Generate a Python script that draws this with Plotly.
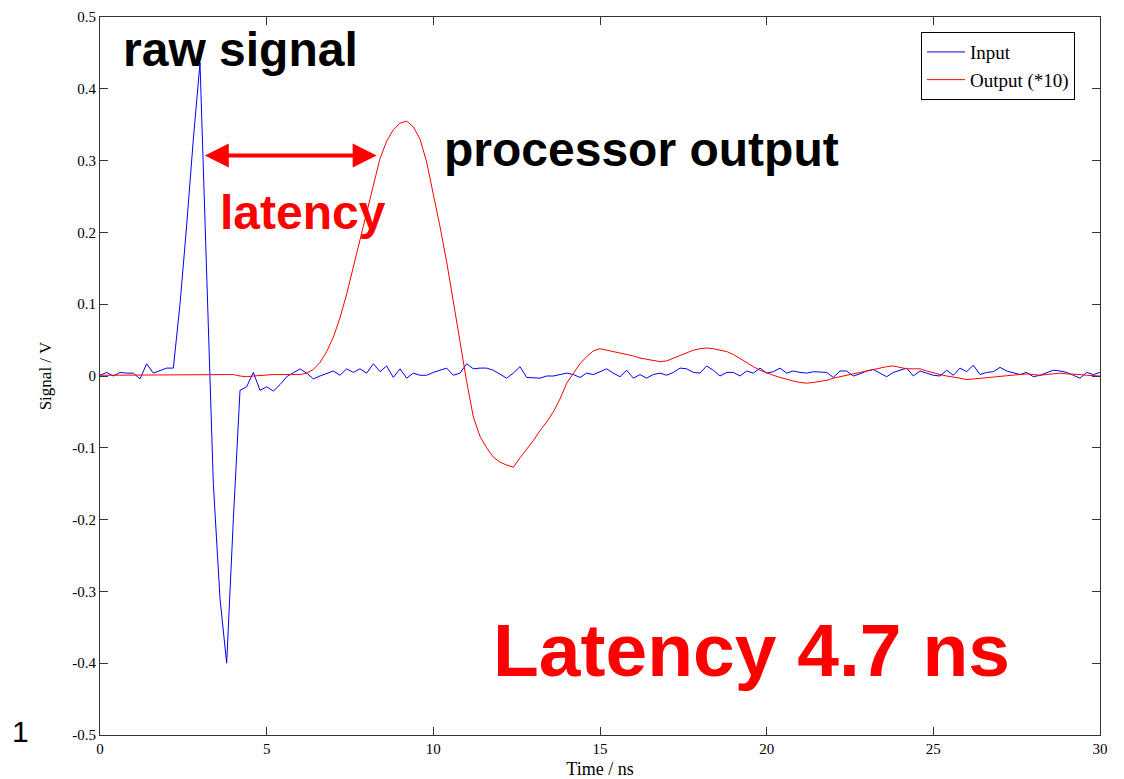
import plotly.graph_objects as go

# Time axis (ns), 0.2 ns sampling
time_ns = [round(i * 0.2, 1) for i in range(151)]

input_v = [
    0.001, 0.005, 0.000, 0.005, 0.004, 0.004, -0.004, 0.017, 0.004, 0.008,   # 0.0-1.8
    0.011, 0.011, 0.100, 0.210, 0.330, 0.436, 0.140, -0.150, -0.310, -0.400,  # 2.0-3.8
    -0.200, -0.020, -0.015, 0.005, -0.020, -0.015, -0.021, -0.012, -0.001, 0.005,  # 4.0-5.8
    0.010, 0.004, -0.004, 0.000, 0.004, 0.007, 0.001, 0.010, 0.005, 0.010,   # 6.0-7.8
    0.004, 0.017, 0.006, 0.014, -0.002, 0.010, -0.003, 0.004, 0.001, 0.001,  # 8.0-9.8
    0.005, 0.008, 0.011, 0.001, 0.004, 0.017, 0.010, 0.011, 0.011, 0.008,   # 10.0-11.8
    0.002, -0.003, 0.004, 0.013, -0.002, -0.002, -0.003, 0.000, 0.000, 0.002,  # 12.0-13.8
    0.004, 0.002, -0.002, 0.004, 0.002, 0.006, 0.010, 0.004, -0.001, 0.008,  # 14.0-15.8
    -0.003, 0.002, -0.003, 0.002, 0.004, 0.001, 0.005, 0.011, 0.010, 0.005,  # 16.0-17.8
    0.004, 0.014, 0.008, 0.000, 0.005, 0.005, 0.000, 0.007, 0.004, 0.011,   # 18.0-19.8
    0.004, 0.006, 0.011, 0.004, 0.007, 0.005, 0.004, 0.006, 0.006, 0.005,   # 20.0-21.8
    -0.002, 0.007, 0.007, 0.000, 0.003, 0.007, 0.009, 0.004, -0.001, 0.005,  # 22.0-23.8
    0.008, 0.011, 0.000, 0.007, 0.004, 0.001, 0.000, 0.008, 0.001, 0.011,   # 24.0-25.8
    0.006, 0.015, 0.002, 0.005, 0.006, 0.012, 0.007, 0.004, 0.002, 0.005,   # 26.0-27.8
    -0.001, 0.001, 0.005, 0.008, 0.007, 0.005, 0.001, -0.003, 0.005, 0.002,  # 28.0-29.8
    0.005,                                                                  # 30.0
]

output_v = [
    0.001, 0.001, 0.002, 0.002, 0.002, 0.002, 0.001, 0.002, 0.001, 0.002,   # 0.0-1.8
    0.002, 0.001, 0.001, 0.001, 0.002, 0.001, 0.001, 0.001, 0.002, 0.001,   # 2.0-3.8
    0.002, 0.000, -0.001, 0.000, 0.001, 0.001, 0.002, 0.002, 0.002, 0.002,  # 4.0-5.8
    0.002, 0.004, 0.009, 0.019, 0.034, 0.054, 0.081, 0.114, 0.152, 0.190,   # 6.0-7.8
    0.228, 0.269, 0.303, 0.327, 0.343, 0.352, 0.355, 0.347, 0.330, 0.298,   # 8.0-9.8
    0.255, 0.208, 0.159, 0.106, 0.048, -0.008, -0.057, -0.084, -0.100, -0.113,  # 10.0-11.8
    -0.120, -0.124, -0.127, -0.114, -0.102, -0.090, -0.076, -0.064, -0.050, -0.032,  # 12.0-13.8
    -0.010, 0.004, 0.017, 0.027, 0.035, 0.038, 0.036, 0.034, 0.033, 0.031,  # 14.0-15.8
    0.028, 0.025, 0.023, 0.021, 0.020, 0.021, 0.025, 0.029, 0.033, 0.036,   # 16.0-17.8
    0.038, 0.039, 0.038, 0.036, 0.034, 0.030, 0.024, 0.018, 0.013, 0.008,   # 18.0-19.8
    0.004, 0.001, -0.002, -0.005, -0.007, -0.009, -0.010, -0.009, -0.008, -0.006,  # 20.0-21.8
    -0.003, -0.001, 0.002, 0.004, 0.005, 0.007, 0.010, 0.012, 0.013, 0.014,  # 22.0-23.8
    0.012, 0.010, 0.010, 0.010, 0.007, 0.004, 0.002, 0.000, -0.001, -0.003,  # 24.0-25.8
    -0.005, -0.004, -0.003, -0.002, -0.001, 0.000, 0.001, 0.002, 0.003, 0.003,  # 26.0-27.8
    0.002, 0.001, 0.002, 0.003, 0.004, 0.003, 0.003, 0.002, 0.001, 0.001,   # 28.0-29.8
    0.000,                                                                  # 30.0
]

x_ticks = [0, 5, 10, 15, 20, 25, 30]
y_ticks = [-0.5, -0.4, -0.3, -0.2, -0.1, 0, 0.1, 0.2, 0.3, 0.4, 0.5]
y_tick_text = ["-0.5", "-0.4", "-0.3", "-0.2", "-0.1", "0", "0.1", "0.2", "0.3", "0.4", "0.5"]

serif = "Liberation Serif, Times New Roman, serif"
sans = "Liberation Sans, Arial, sans-serif"

fig = go.Figure()
fig.add_trace(go.Scatter(x=time_ns, y=input_v, mode="lines", name="Input",
                         line=dict(color="#0000ff", width=1)))
fig.add_trace(go.Scatter(x=time_ns, y=output_v, mode="lines", name="Output (*10)",
                         line=dict(color="#ff0000", width=1)))

axis_common = dict(showline=True, linecolor="#333333", linewidth=1, mirror="ticks",
                   ticks="inside", ticklen=8, tickcolor="#333333", showgrid=False,
                   zeroline=False, automargin=False,
                   tickfont=dict(family=serif, size=15, color="black"))

fig.update_layout(
    width=1124, height=779,
    margin=dict(l=100, r=24, t=17, b=44),
    paper_bgcolor="white", plot_bgcolor="white",
    xaxis=dict(range=[0, 30], tickvals=x_ticks, ticktext=[str(v) for v in x_ticks],
               title=dict(text="Time / ns", font=dict(family=serif, size=18, color="black"), standoff=8),
               **axis_common),
    yaxis=dict(range=[-0.5, 0.5], tickvals=y_ticks, ticktext=y_tick_text,
               title=dict(text="Signal / V", font=dict(family=serif, size=17, color="black"), standoff=16),
               **axis_common),
    legend=dict(x=0.821, y=0.979, xanchor="left", yanchor="top",
                bgcolor="white", bordercolor="black", borderwidth=1,
                font=dict(family=serif, size=19, color="black"),
                tracegroupgap=0, itemwidth=38),
    showlegend=True,
)

# latency arrow
fig.add_annotation(x=8.3, y=0.307, ax=3.1, ay=0.307, xref="x", yref="y", axref="x", ayref="y",
                   text="", showarrow=True, arrowhead=2, startarrowhead=2, arrowside="end+start",
                   arrowwidth=4, arrowsize=1.2, startarrowsize=1.2, arrowcolor="#ff0000")

fig.add_annotation(x=0.63, y=0.455, xref="x", yref="y", text="<b>raw signal</b>", showarrow=False,
                   xanchor="left", yanchor="middle", font=dict(family=sans, size=48, color="black"))
fig.add_annotation(x=10.26, y=0.315, xref="x", yref="y", text="<b>processor output</b>", showarrow=False,
                   xanchor="left", yanchor="middle", font=dict(family=sans, size=48, color="black"))
fig.add_annotation(x=3.54, y=0.228, xref="x", yref="y", text="<b>latency</b>", showarrow=False,
                   xanchor="left", yanchor="middle", font=dict(family=sans, size=48, color="#ff0000"))
fig.add_annotation(x=11.73, y=-0.381, xref="x", yref="y", text="<b>Latency 4.7 ns</b>", showarrow=False,
                   xanchor="left", yanchor="middle", font=dict(family=sans, size=75, color="#ff0000"))
fig.add_annotation(x=(10 - 100) / 1000, y=(735 - 731) / 718, xref="paper", yref="paper", text="1",
                   showarrow=False, xanchor="left", yanchor="middle",
                   font=dict(family=sans, size=30, color="black"))

fig.write_html("out.html")
